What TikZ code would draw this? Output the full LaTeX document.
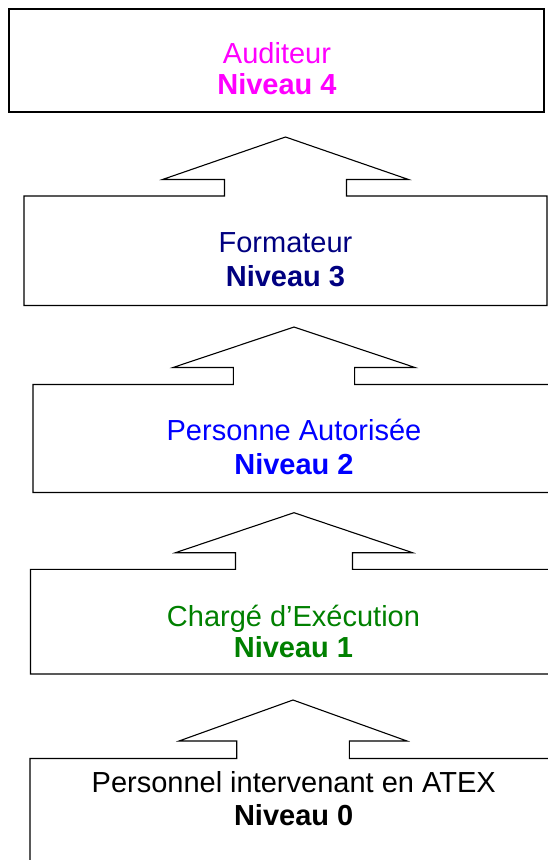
\documentclass[tikz,border=0pt]{standalone}
\usepackage{fontspec}
\setmainfont{Liberation Sans}
\definecolor{lvlmagenta}{HTML}{FF00FF}
\definecolor{lvlnavy}{HTML}{000080}
\definecolor{lvlblue}{HTML}{0000FF}
\definecolor{lvlgreen}{HTML}{008000}
\tikzset{
  frame/.style={draw=black, line width=1.1pt, line join=miter},
  lvltxt/.style={font=\fontsize{29}{31}\selectfont, anchor=base, inner sep=0pt},
  lvlbold/.style={font=\fontsize{29}{31}\selectfont\bfseries, anchor=base, inner sep=0pt}
}
\begin{document}
\begin{tikzpicture}[x=1pt,y=-1pt]
\useasboundingbox (0,0) rectangle (547,860);
% Level 4
\draw[frame] (9,9) rectangle (544,112);
\node[lvltxt, text=lvlmagenta] (n4a) at (277,63) {Auditeur};
\node[lvlbold, text=lvlmagenta] (n4b) at (277,94) {Niveau 4};
% Level 3 box with arrow
\draw[frame] (224.5,196) -- (24,196) -- (24,305.5) -- (547,305.5) -- (547,196) -- (346.5,196)
  -- (346.5,179.5) -- (408.5,179.5) -- (285.5,137) -- (162.5,179.5) -- (224.5,179.5) -- cycle;
\node[lvltxt, text=lvlnavy] (n3a) at (285.5,252) {Formateur};
\node[lvlbold, text=lvlnavy] (n3b) at (285.5,286) {Niveau 3};
% Level 2
\draw[frame] (233.4,384.5) -- (33,384.5) -- (33,492.5) -- (555,492.5) -- (555,384.5) -- (354.6,384.5)
  -- (354.6,367.5) -- (415,367.5) -- (294,327) -- (173,367.5) -- (233.4,367.5) -- cycle;
\node[lvltxt, text=lvlblue] (n2a) at (294,440) {Personne Autorisée};
\node[lvlbold, text=lvlblue] (n2b) at (294,474) {Niveau 2};
% Level 1
\draw[frame] (235.5,569.3) -- (30.5,569.3) -- (30.5,674) -- (556.5,674) -- (556.5,569.3) -- (352.5,569.3)
  -- (352.5,552.7) -- (412.6,552.7) -- (294,512.7) -- (175.4,552.7) -- (235.5,552.7) -- cycle;
\node[lvltxt, text=lvlgreen] (n1a) at (293.5,626.5) {Chargé d’Exécution};
\node[lvlbold, text=lvlgreen] (n1b) at (293.5,657.5) {Niveau 1};
% Level 0
\draw[frame] (236.7,758.5) -- (30,758.5) -- (30,900) -- (556,900) -- (556,758.5) -- (349.3,758.5)
  -- (349.3,741) -- (407,741) -- (293,700) -- (179,741) -- (236.7,741) -- cycle;
\node[lvltxt, text=black] (n0a) at (293.7,792) {Personnel intervenant en ATEX};
\node[lvlbold, text=black] (n0b) at (293.7,825) {Niveau 0};
\end{tikzpicture}
\end{document}
